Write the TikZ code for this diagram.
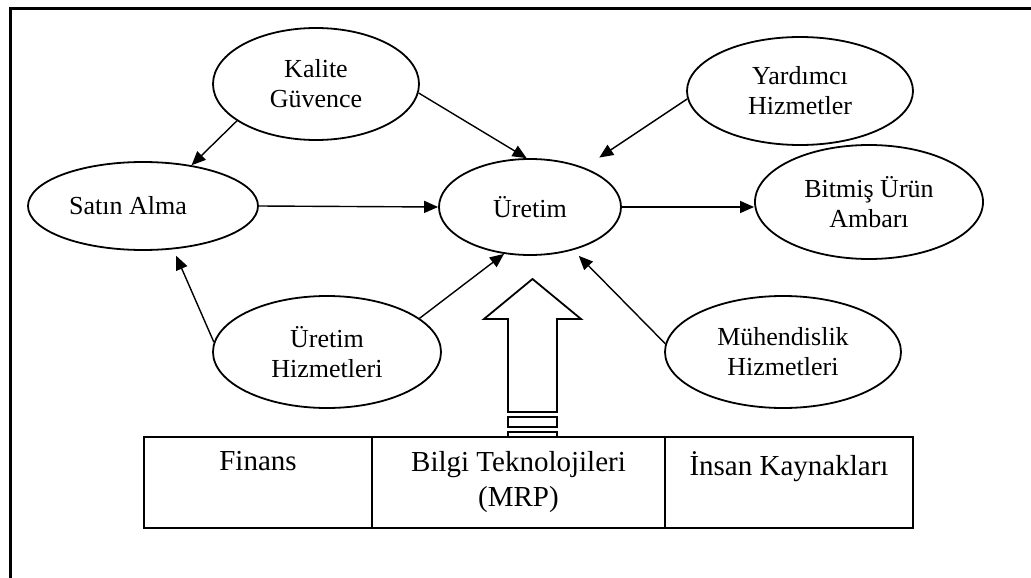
\documentclass[tikz,border=0pt]{standalone}
\usepackage{fontspec}
\setmainfont{Liberation Serif}
\usetikzlibrary{shapes.geometric,arrows.meta}
\begin{document}
\begin{tikzpicture}[x=1pt,y=-1pt,
  unit/.style={draw, ellipse, line width=1.8pt, inner sep=0pt, align=center,
    font=\fontsize{26}{30}\selectfont},
  flow/.style={-{Triangle[length=14pt,width=12pt]}, line width=1.4pt},
  cell/.style={draw, rectangle, line width=1.8pt, inner sep=0pt, minimum height=91pt},
  celltext/.style={align=center, inner sep=0pt, anchor=north,
    font=\fontsize{29}{35}\selectfont}]
\useasboundingbox (0,0) rectangle (1031,578);
% outer frame
\draw[line width=2.5pt] (1045,8.5) -- (10.5,8.5) -- (10.5,595);

% departments
\node[unit, minimum width=206pt, minimum height=112pt] (kal) at (316,84)  {Kalite\\Güvence};
\node[unit, minimum width=230pt, minimum height=88pt]  (sat) at (143,206) {\hspace*{-30pt}Satın Alma};
\node[unit, minimum width=182pt, minimum height=96pt]  (ure) at (530,207) {Üretim};
\node[unit, minimum width=226pt, minimum height=108pt] (yar) at (800,91)  {Yardımcı\\Hizmetler};
\node[unit, minimum width=228pt, minimum height=114pt] (bit) at (869,202) {Bitmiş Ürün\\Ambarı};
\node[unit, minimum width=228pt, minimum height=112pt] (uh)  at (327,352) {Üretim\\Hizmetleri};
\node[unit, minimum width=236pt, minimum height=112pt] (muh) at (783,352) {Mühendislik\\Hizmetleri};

% flows
\draw[flow] (kal.205.7) -- (sat.40);
\draw[flow] (kal.-5) -- (ure.94);
\draw[flow, shorten >=18pt] (yar.184.6) -- (ure.36.6);
\draw[flow] (sat.east) -- (ure.west);
\draw[flow] (ure.east) -- (ure.east -| bit.west);
\draw[flow, shorten >=7pt] (uh.175) -- (sat.-55.8);
\draw[flow] (uh.20.5) -- (ure.241.5);
\draw[flow, shorten >=8pt] (muh.176) -- (ure.-45);

% support block arrow
\draw[line width=1.8pt, line join=miter]
  (508,412) -- (508,319) -- (484,319) -- (532.5,279) -- (581,319)
  -- (557,319) -- (557,412) -- cycle;
\draw[line width=1.8pt] (508,417) rectangle (557,427);
\draw[line width=1.8pt] (508,432) rectangle (557,437);

% support functions
\node[cell, minimum width=228pt] (fin) at (258,482.5) {};
\node[cell, minimum width=293pt] (bil) at (518.5,482.5) {};
\node[cell, minimum width=248pt] (ins) at (789,482.5) {};
\node[celltext] (tfin) at ([yshift=-15pt]fin.north) {Finans};
\node[celltext] (tbil) at ([yshift=-15pt]bil.north) {Bilgi Teknolojileri\\(MRP)};
\node[celltext] (tins) at ([yshift=-15pt]ins.north) {İnsan Kaynakları};
\end{tikzpicture}
\end{document}
